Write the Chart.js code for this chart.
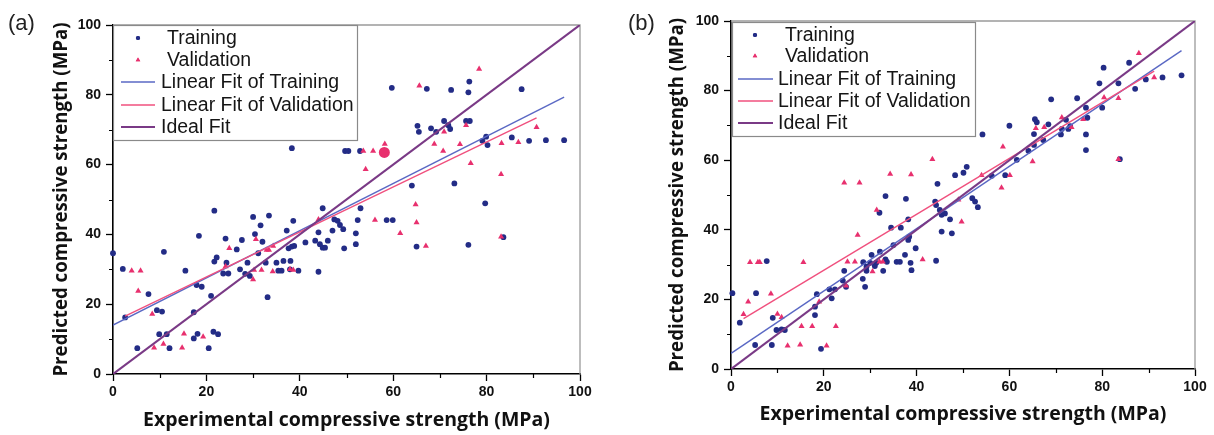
<!DOCTYPE html>
<html>
<head>
<meta charset="utf-8">
<script src="https://cdn.jsdelivr.net/npm/chart.js@4.4.1/dist/chart.umd.min.js"></script>
<style>
    html, body { margin: 0; padding: 0; background: #fff; }
    body { width: 1214px; height: 435px; position: relative; overflow: hidden; font-family: "Liberation Sans", Arial, sans-serif; }
    .panel { position: absolute; top: 0; width: 607px; height: 435px; }
    .tag { position: absolute; top: 10px; font-size: 22px; color: #222; }
</style>
</head>
<body>
<div class="panel" style="left:0"><canvas id="chartA" width="607" height="435"></canvas></div>
<div class="panel" style="left:607px"><canvas id="chartB" width="607" height="435"></canvas></div>
<div class="tag" style="left:8px">(a)</div>
<div class="tag" style="left:628px">(b)</div>
<script>
// Pontos [experimental, previsto]
const trainA = [
    [0,34.6],[2.1,30.1],[2.6,16.2],[5.2,7.4],[7.6,22.9],[9.4,18.3],[10.5,17.9],[9.9,11.4],[11.5,11.4],[10.9,35],
    [12.1,7.4],[15.5,29.6],[17.3,10.2],[18.1,11.5],[17.3,17.7],[17.9,25.5],[19,25],[18.4,39.6],[20.5,7.4],[21,22.4],
    [21.5,12.1],[22.5,11.4],[21.7,46.8],[21.7,32.2],[22.2,33.4],[23.6,28.8],[24.7,28.8],[24.1,38.8],[24.3,31.9],[26.5,35.7],
    [27.6,38.4],[27.2,30],[28.3,28.7],[28.8,31.9],[29.3,28.1],[30,45],[30.4,40.1],[31.1,34.6],[31.6,42.6],[32,37.9],
    [32.7,31.9],[33.1,22],[33.4,45.4],[35,31.9],[36.5,32.4],[38,32.4],[35.4,29.6],[36.1,29.6],[37.2,41.1],[37.6,36],
    [38.3,36.5],[38.8,36.7],[38.6,43.9],[37.9,30],[39.7,29.6],[41.2,37.7],[43.3,38.2],[44,40.6],[44,29.3],[44.3,37.2],
    [44.9,36.2],[45.4,36.2],[44.9,47.5],[46,38.2],[47,41.1],[47.4,44.3],[48.1,43.9],[48.6,42.7],[49.3,41.5],[49.5,36],
    [52,40.3],[52,37.2],[52.4,44.1],[53,47.5],[58.6,44.1],[59.9,44.1],[59.7,82],[38.3,64.7],[49.7,63.9],[50.4,63.9],
    [52.9,63.9],[67.2,81.7],[72.4,81.4],[76.3,83.8],[76.1,80.7],[87.5,81.6],[70.9,72.5],[71.8,71.3],[72.2,70.2],[65.2,71.1],
    [65.5,69.4],[68.1,70.4],[69.2,69.4],[75.6,72.5],[76.4,72.5],[79.1,66.8],[79.9,68],[80.2,65.6],[85.4,67.8],[89.1,66.8],
    [92.7,67],[96.6,67],[64,54],[73.1,54.6],[79.7,48.9],[83.6,39.2],[65,36.5],[76.1,37]
];
const validA = [
    [4,29.6],[5.9,29.6],[5.4,23.8],[8.4,17.2],[8.8,7.5],[10.8,8.6],[14.8,7.5],[15.2,11.5],[19.3,10.7],[24.1,30.8],
    [24.9,36],[30,27.1],[30.2,29.8],[30.6,38.6],[31.8,29.8],[32.9,35.5],[33.4,35.5],[34.3,36.7],[34.2,29.4],[37.9,30],
    [38.6,29.8],[44,44.3],[56.1,44.1],[61.5,40.3],[53.6,63.9],[55.7,63.9],[58.2,65.9],[54.1,58.7],[78.4,87.4],[65.6,82.6],
    [70.9,69.4],[75.6,71.3],[90.7,70.7],[68.8,65.9],[70.7,63.9],[74.3,65.8],[83.2,66.1],[86.8,66.4],[76.6,60.4],[83.1,57.2],
    [64.8,48.6],[65,43.4],[83.1,39.3],[67,36.7]
];
const markedA = [[58.1,63.5]];

const trainB = [
    [0.3,21.8],[1.9,13.3],[5.2,6.9],[5.4,21.8],[7.7,31],[8.8,6.9],[9,14.7],[9.8,11.2],[10.9,11.4],[11.6,11.2],
    [18.1,15.5],[18.1,17.9],[18.5,21.5],[19.4,5.8],[21.2,22.9],[21.7,20.3],[22.4,22.9],[24.1,25.4],[24.8,23.6],[24.4,28.2],
    [28.4,25.9],[28.9,23.6],[28.5,30.7],[29.2,29.4],[29.2,28.2],[30,30.5],[30.3,32.8],[31,29.6],[31.3,30.5],[32,44.9],
    [32.1,33.7],[32.8,28.2],[33.3,31.5],[33.6,30.8],[33.3,49.7],[34.5,40.6],[35,35.6],[35.7,30.8],[36.4,30.8],[36.6,40.6],
    [37.5,32.8],[38.2,37.1],[38.4,38],[37.7,48.9],[38.2,43],[38.7,30.5],[38.9,28.4],[39.8,34.7],[44,48.1],[44.2,47.1],
    [44.2,31.1],[45,45.7],[45.4,44.3],[46.1,44.7],[45.4,39.5],[47.2,43],[47.6,39],[52,49.1],[52.6,48.1],[53.2,46.5],
    [44.5,53.2],[48.3,55.7],[54.2,67.4],[60,69.9],[50.1,56.4],[50.8,58.1],[56.2,55.5],[59.1,55.7],[61.6,60.1],[64.1,62.7],
    [65.3,64.4],[65.3,67.5],[65.5,71.8],[65.9,70.9],[67.3,65.8],[68.4,70.3],[69,77.5],[71.1,67.4],[71.3,69],[72.2,71.6],
    [72.7,69],[73.1,69.8],[74.6,77.8],[76.5,75.1],[76.8,72.2],[76.5,67.4],[76.5,62.9],[80,75.1],[79.4,82.1],[80.3,86.6],
    [83.5,82.1],[83.8,60.3],[85.8,88],[87.1,80.5],[89.4,83.2],[93,83.8],[97.1,84.4]
];
const validB = [
    [2.7,15.7],[3.7,19.3],[4.1,30.7],[5.8,30.7],[6.2,30.7],[8.6,21.6],[10,15.8],[10.9,14.9],[12.2,6.7],[14.9,7],
    [15.2,12.3],[15.6,30.7],[17.5,12.3],[19,19.3],[20.6,6.7],[22.6,12.3],[24.8,23.9],[25.1,30.8],[26.7,30.8],[27.3,38.5],
    [30.5,28],[31.4,45.7],[32,30.8],[32.7,30.8],[41.3,31.5],[49,48.6],[49.7,42.3],[24.4,53.5],[27.7,53.5],[34.3,56],
    [38.8,55.9],[43.4,60.3],[54,55.7],[58.3,52.1],[58.6,63.9],[60.1,55.7],[65,59.6],[65.7,69.2],[67.5,69.5],[71.3,72.3],
    [73.4,69.5],[75.9,71.8],[80.4,78],[83.5,77.8],[83.5,60.3],[87.9,90.7],[91.2,83.8]
];
const markedB = [];

// Retas: [intercepto, inclinação, x inicial, x final]
const fitTrainA = [14.0, 0.676, 0, 96.6];
const fitValidA = [14.9, 0.645, 2.6, 90.7];
const fitTrainB = [4.5, 0.896, 0, 97.1];
const fitValidB = [12.3, 0.804, 2.7, 91.2];
const idealFit = [0, 1, 0, 100];

const axisTicks = [0, 20, 40, 60, 80, 100];
const minorTicks = [10, 30, 50, 70, 90];

const CORES = {
    train: '#232c86',
    valid: '#e8306e',
    fitT: '#5a68c4',
    fitV: '#f0507e',
    ideal: '#7a3a86'
};

const toXY = arr => arr.map(p => ({ x: p[0], y: p[1] }));
const fitLine = f => [
    { x: f[2], y: f[0] + f[1] * f[2] },
    { x: f[3], y: f[0] + f[1] * f[3] }
];

/**
 * Desenha a moldura cinza (topo e direita) e os ticks menores
 */
const framePlugin = {
    id: 'frame',
    beforeDatasetsDraw(chart) {
        const { ctx, chartArea: a } = chart;
        ctx.save();
        ctx.strokeStyle = '#9a9a9a';
        ctx.lineWidth = 1.3;
        ctx.beginPath();
        ctx.moveTo(a.left, a.top);
        ctx.lineTo(a.right, a.top);
        ctx.lineTo(a.right, a.bottom);
        ctx.stroke();

        // ticks menores
        ctx.strokeStyle = '#000';
        ctx.lineWidth = 1.2;
        const xs = chart.scales.x, ys = chart.scales.y;
        ctx.beginPath();
        minorTicks.forEach(v => {
            const px = Math.round(xs.getPixelForValue(v)) + 0.5;
            ctx.moveTo(px, a.bottom);
            ctx.lineTo(px, a.bottom + 4);
            const py = Math.round(ys.getPixelForValue(v)) + 0.5;
            ctx.moveTo(a.left, py);
            ctx.lineTo(a.left - 4, py);
        });
        ctx.stroke();
        ctx.restore();
    }
};

/**
 * Legenda dentro da área do gráfico, com caixa
 */
const boxLegendPlugin = {
    id: 'boxLegend',
    afterDatasetsDraw(chart, args, opts) {
        const { ctx } = chart;
        const g = opts.geom;
        ctx.save();
        ctx.fillStyle = '#fff';
        ctx.fillRect(g.box[0], g.box[1], g.box[2] - g.box[0], g.box[3] - g.box[1]);
        ctx.strokeStyle = '#8a8a8a';
        ctx.lineWidth = 1.2;
        ctx.strokeRect(g.box[0] + 0.5, g.box[1] + 0.5, g.box[2] - g.box[0], g.box[3] - g.box[1]);

        ctx.font = '19.5px "Liberation Sans", Arial, sans-serif';
        ctx.textBaseline = 'middle';
        const items = chart.data.datasets.filter(d => d.label);
        items.forEach((d, i) => {
            const y = g.rows[i];
            if (d.showLine) {
                ctx.strokeStyle = d.borderColor;
                ctx.lineWidth = d.borderWidth;
                ctx.beginPath();
                ctx.moveTo(g.line[0], y);
                ctx.lineTo(g.line[1], y);
                ctx.stroke();
                ctx.fillStyle = '#151515';
                ctx.fillText(d.label, g.lineText, y + 1);
            } else {
                ctx.fillStyle = d.backgroundColor;
                Chart.helpers.drawPoint(ctx, { pointStyle: d.pointStyle, radius: d.pointStyle === 'triangle' ? 2.6 : 2.1, borderWidth: 0 }, g.mark, y);
                ctx.fill();
                ctx.fillStyle = '#151515';
                ctx.fillText(d.label, g.markText, y + 1);
            }
        });
        ctx.restore();
    }
};

function makePanel(canvasId, train, valid, marked, fitT, fitV, g) {
    const tickFont = { family: '"Liberation Sans", Arial, sans-serif', size: 14, weight: 'bold' };
    const xTitleFont = { family: '"Open Sans", sans-serif', size: 19.5, weight: 'bold' };
    const yTitleFont = { family: '"Open Sans", sans-serif', size: 18.7, weight: 'bold' };

    const datasets = [
        { label: 'Training', data: toXY(train), pointStyle: 'circle', pointRadius: 2.9,
          backgroundColor: CORES.train, borderColor: CORES.train, borderWidth: 0, order: 4, clip: false },
        { label: 'Validation', data: toXY(valid), pointStyle: 'triangle', pointRadius: 3.5,
          backgroundColor: CORES.valid, borderColor: CORES.valid, borderWidth: 0, order: 3, clip: false },
        { label: 'Linear Fit of Training', data: fitLine(fitT), showLine: true, pointRadius: 0,
          borderColor: CORES.fitT, borderWidth: 1.4, order: 2 },
        { label: 'Linear Fit of Validation', data: fitLine(fitV), showLine: true, pointRadius: 0,
          borderColor: CORES.fitV, borderWidth: 1.4, order: 1 },
        { label: 'Ideal Fit', data: fitLine(idealFit), showLine: true, pointRadius: 0,
          borderColor: CORES.ideal, borderWidth: 2.2, order: 0 }
    ];
    if (marked.length) {
        datasets.push({ data: toXY(marked), pointStyle: 'circle', pointRadius: 5.5,
            backgroundColor: CORES.valid, borderWidth: 0, order: 3, clip: false });
    }

    const axis = (titleText, isX) => {
        const font = isX ? xTitleFont : yTitleFont;
        const half = font.size * 1.2 / 2;
        return {
            type: 'linear',
            min: 0,
            max: 100,
            afterBuildTicks: scale => { scale.ticks = axisTicks.map(v => ({ value: v })); },
            afterFit: scale => {
                if (isX) scale.height = g.xAxisH;
                else scale.width = g.yAxisW;
            },
            grid: { drawOnChartArea: false, drawTicks: true, tickLength: 7, tickColor: '#000', tickWidth: 1.3 },
            border: { display: true, color: '#000', width: 1.6 },
            ticks: { color: '#111', font: tickFont, padding: isX ? 3 : 5, maxRotation: 0 },
            title: {
                display: true,
                text: titleText,
                color: '#111',
                font,
                padding: isX ? { top: 0, bottom: g.xTitleOff - half } : { top: g.yTitleOff - half, bottom: 0 }
            }
        };
    };

    return new Chart(document.getElementById(canvasId), {
        type: 'scatter',
        data: { datasets },
        options: {
            responsive: false,
            animation: false,
            events: [],
            layout: { padding: { left: 0, top: g.top, right: g.right, bottom: 0 } },
            scales: {
                x: axis('Experimental compressive strength (MPa)', true),
                y: axis('Predicted compressive strength (MPa)', false)
            },
            plugins: {
                legend: { display: false },
                tooltip: { enabled: false },
                boxLegend: { geom: g.legend }
            }
        },
        plugins: [framePlugin, boxLegendPlugin]
    });
}

makePanel('chartA', trainA, validA, markedA, fitTrainA, fitValidA, {
    top: 25, right: 27, yAxisW: 113, xAxisH: 61, yTitleOff: 62, xTitleOff: 15,
    legend: { box: [113, 25, 357, 140], rows: [38, 60, 82, 105, 127], mark: 138, markText: 167, line: [121, 155], lineText: 161 }
});
makePanel('chartB', trainB, validB, markedB, fitTrainB, fitValidB, {
    top: 21, right: 19, yAxisW: 124, xAxisH: 66, yTitleOff: 71, xTitleOff: 21,
    legend: { box: [125, 22, 368, 136], rows: [35, 56, 79, 101, 123], mark: 148, markText: 178, line: [131, 166], lineText: 171 }
});
</script>
</body>
</html>
